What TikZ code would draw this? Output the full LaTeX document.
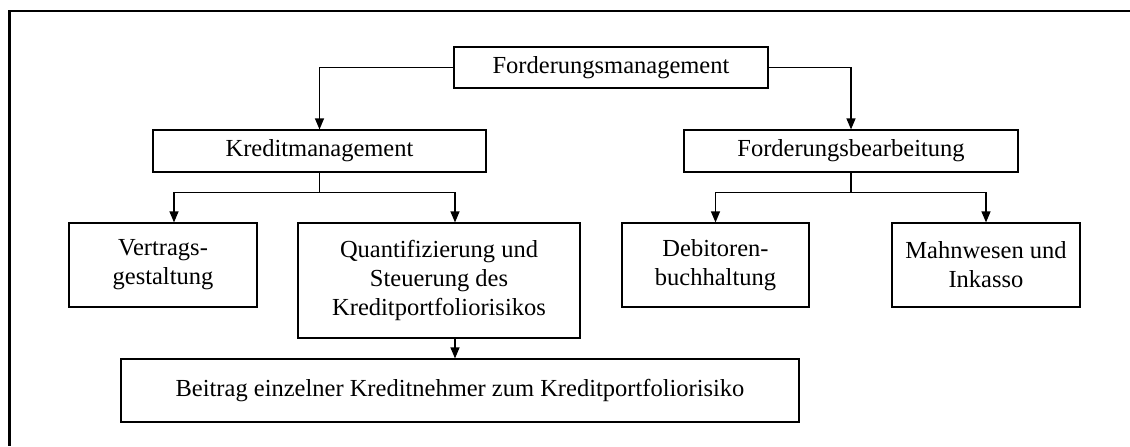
\documentclass[tikz,border=0pt]{standalone}
\usepackage{fontspec}
\setmainfont{Liberation Serif}
\usetikzlibrary{arrows.meta}
\tikzset{
  box/.style={draw, line width=0.6pt, rectangle, inner sep=0pt, align=center,
    font=\fontsize{12.25pt}{14.5pt}\selectfont},
  arr/.style={line width=0.6pt, -{Triangle[width=4.5pt,length=5.5pt]}},
  frame/.style={line width=1.1pt}
}
\begin{document}
\begin{tikzpicture}[x=0.5pt,y=-0.5pt]
\useasboundingbox (0,0) rectangle (1130,446);
% partial frame
\coordinate (ftr) at (1130,11);
\coordinate (ftl) at (9.5,11);
\coordinate (fbl) at (9.5,446);
\draw[frame] (ftr) -- (ftl) -- (fbl);
% nodes
\node[box, minimum width=157pt, minimum height=20.5pt] (fm) at (611,67.5) {Forderungsmanagement};
\node[box, minimum width=166.5pt, minimum height=21pt] (km) at (319.5,151) {Kreditmanagement};
\node[box, minimum width=167pt, minimum height=21pt] (fb) at (851,151) {Forderungsbearbeitung};
\node[box, minimum width=94pt, minimum height=42pt] (vg) at (163,265) {Vertrags-\\gestaltung};
\node[box, minimum width=141pt, minimum height=57.5pt] (qs) at (439,280.5) {Quantifizierung und\\Steuerung des\\Kreditportfoliorisikos};
\node[box, minimum width=93.5pt, minimum height=42pt] (db) at (715.5,265) {Debitoren-\\buchhaltung};
\node[box, minimum width=94pt, minimum height=42pt] (mi) at (986,265) {Mahnwesen und\\Inkasso};
\node[box, minimum width=339pt, minimum height=31.5pt] (bk) at (460,390.5) {Beitrag einzelner Kreditnehmer zum Kreditportfoliorisiko};
% connectors
\draw[arr] (fm.west) -| (km.north);
\draw[arr] (fm.east) -| (fb.north);
\draw[arr] (km.south) -- ++(0,20) -| ([xshift=5.5pt]vg.north);
\draw[arr] (km.south) -- ++(0,20) -| ([xshift=8pt]qs.north);
\draw[arr] (fb.south) -- ++(0,20) -| (db.north);
\draw[arr] (fb.south) -- ++(0,20) -| (mi.north);
\draw[arr] ([xshift=8pt]qs.south) -- ([xshift=8pt]qs.south |- bk.north);
\end{tikzpicture}
\end{document}
